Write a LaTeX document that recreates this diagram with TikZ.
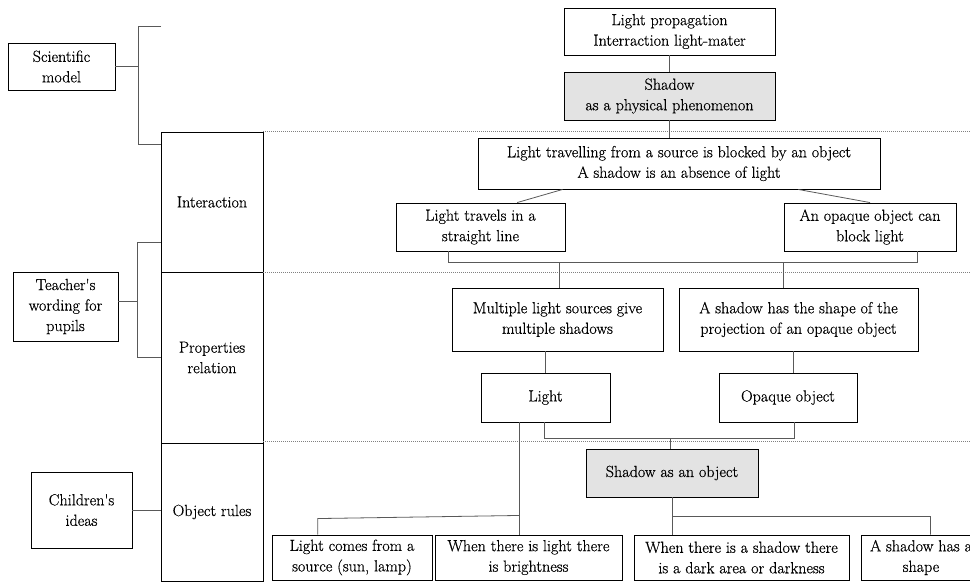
\documentclass[tikz,border=0pt]{standalone}
\usepackage{fontspec}
\newfontfamily\lmheavy{Latin Modern Roman}[FakeBold=0.5]
\usetikzlibrary{calc}
\tikzset{
  box/.style={draw=black, line width=0.9pt, inner sep=0pt, align=center,
    font=\lmheavy\fontsize{16.1}{20.5}\selectfont},
  graybox/.style={box, fill=gray!22},
  conn/.style={draw=black!65, line width=0.8pt},
  dotline/.style={draw=black!50, line width=0.7pt, dash pattern=on 1pt off 1pt}
}
\begin{document}
\begin{tikzpicture}[x=1pt,y=-1pt]
\useasboundingbox (0,0) rectangle (970,582);
\clip (0,0) rectangle (970,582);
% left column
\node[box, minimum width=107pt, minimum height=47pt] (sci) at (61.5,66.5) {Scientific\\model};
\node[box, minimum width=105pt, minimum height=69pt] (teach) at (65.5,306.5) {Teacher\textquotesingle s\\wording for\\pupils};
\node[box, minimum width=101pt, minimum height=76pt] (child) at (81.5,510) {Children\textquotesingle s\\ideas};
\node[box, minimum width=102pt, minimum height=140pt] (inter) at (212,202) {Interaction};
\node[box, minimum width=102pt, minimum height=171pt] (props) at (212,357.5) {Properties\\relation};
\node[box, minimum width=102pt, minimum height=138pt] (objr) at (212,512) {Object rules};
% right part
\node[box, minimum width=211pt, minimum height=47pt] (prop) at (669.5,31.5) {Light propagation\\Interraction light-mater};
\node[graybox, minimum width=211pt, minimum height=48pt] (shadowphys) at (669.5,96) {Shadow\\as a physical phenomenon};
\node[box, minimum width=402pt, minimum height=51pt] (travel) at (679,163.5) {Light travelling from a source is blocked by an object\\A shadow is an absence of light};
\node[box, minimum width=169pt, minimum height=48pt] (straight) at (480.5,227) {Light travels in a\\straight line};
\node[box, minimum width=172pt, minimum height=48pt] (block) at (870,227) {An opaque object can\\block light};
\node[box, minimum width=211pt, minimum height=63pt] (multi) at (557.5,319.5) {Multiple light sources give\\multiple shadows};
\node[box, minimum width=239pt, minimum height=63pt] (shape) at (798.5,319.5) {A shadow has the shape of the\\projection of an opaque object};
\node[box, minimum width=129pt, minimum height=49pt] (light) at (545.5,397.5) {Light};
\node[box, minimum width=138pt, minimum height=49pt] (opaque) at (788,397.5) {Opaque object};
\node[graybox, minimum width=172pt, minimum height=48pt] (shadowobj) at (672,473) {Shadow as an object};
\node[box, minimum width=160pt, minimum height=45pt] (b1) at (352,557.5) {Light comes from a\\source (sun, lamp)};
\node[box, minimum width=187pt, minimum height=45pt] (b2) at (528.5,557.5) {When there is light there\\is brightness};
\node[box, minimum width=215pt, minimum height=45pt] (b3) at (741.5,557.5) {When there is a shadow there\\is a dark area or darkness};
\node[box, minimum width=120pt, minimum height=45pt] (b4) at (921,557.5) {A shadow has a\\shape};
% dotted separators
\draw[dotline] (inter.north east) -- ++(707,0);
\draw[dotline] (inter.south east) -- ++(707,0);
\draw[dotline] ($(props.south east)+(0,-2)$) -- ++(707,0);
% left brackets
\coordinate (scitop) at (161,26);
\draw[conn] (scitop) -- ++(-23,0) |- ($(inter.north west)+(0,13)$);
\draw[conn] (sci.east) -- ++(23,0);
\draw[conn] ($(inter.south west)+(0,-30)$) -- ++(-23,0) |- (props.west);
\draw[conn] ($(teach.east)+(0,-5)$) -- ++(20,0);
\draw[conn] (child.east) -- (child.east -| objr.west);
% right connectors
\draw[conn] (prop.south) -- (shadowphys.north);
\draw[conn] (shadowphys.south) -- (shadowphys.south |- travel.north);
\draw[conn] ($(travel.south west)!0.211!(travel.south east)$) -- ($(straight.north west)!0.716!(straight.north east)$);
\draw[conn] ($(travel.south west)!0.796!(travel.south east)$) -- (block.north);
\coordinate (sb) at ($(straight.south west)!0.31!(straight.south east)$);
\coordinate (bb) at ($(block.south west)!0.773!(block.south east)$);
\coordinate (brA) at ($(sb)+(0,11)$);
\draw[conn] (sb) -- (brA) -| (bb);
\coordinate (m1) at ($(multi.north)+(1.5,0)$);
\draw[conn] (m1) -- (m1 |- brA);
\coordinate (m2) at ($(shape.north west)!0.435!(shape.north east)$);
\draw[conn] (m2) -- (m2 |- brA);
\draw[conn] (light.north) -- (light.north |- multi.south);
\coordinate (o1) at ($(opaque.north)+(5,0)$);
\draw[conn] (o1) -- (o1 |- shape.south);
\coordinate (lb) at ($(light.south)+(-1,0)$);
\coordinate (ob) at ($(opaque.south)+(6,0)$);
\coordinate (brB) at ($(lb)+(0,16)$);
\draw[conn] (lb) -- (brB) -| (ob);
\coordinate (mid) at ($(shadowobj.north)+(-2,0)$);
\draw[conn] (mid) -- (mid |- brB);
\coordinate (l1) at ($(light.south west)!0.302!(light.south east)$);
\draw[conn] (l1) -- (l1 |- b2.north);
\coordinate (j1) at ($(l1)+(0,93)$);
\coordinate (k1) at ($(b1.north west)!0.2875!(b1.north east)$);
\draw[conn] (j1) -- ($(k1)+(0,-16)$) -- (k1);
\draw[conn] (shadowobj.south) -- (shadowobj.south |- b3.north);
\coordinate (j2) at ($(shadowobj.south)+(0,19)$);
\coordinate (k2) at ($(b4.north west)+(70,0)$);
\draw[conn] (j2) -- ($(k2)+(0,-18)$) -- (k2);
\end{tikzpicture}
\end{document}
